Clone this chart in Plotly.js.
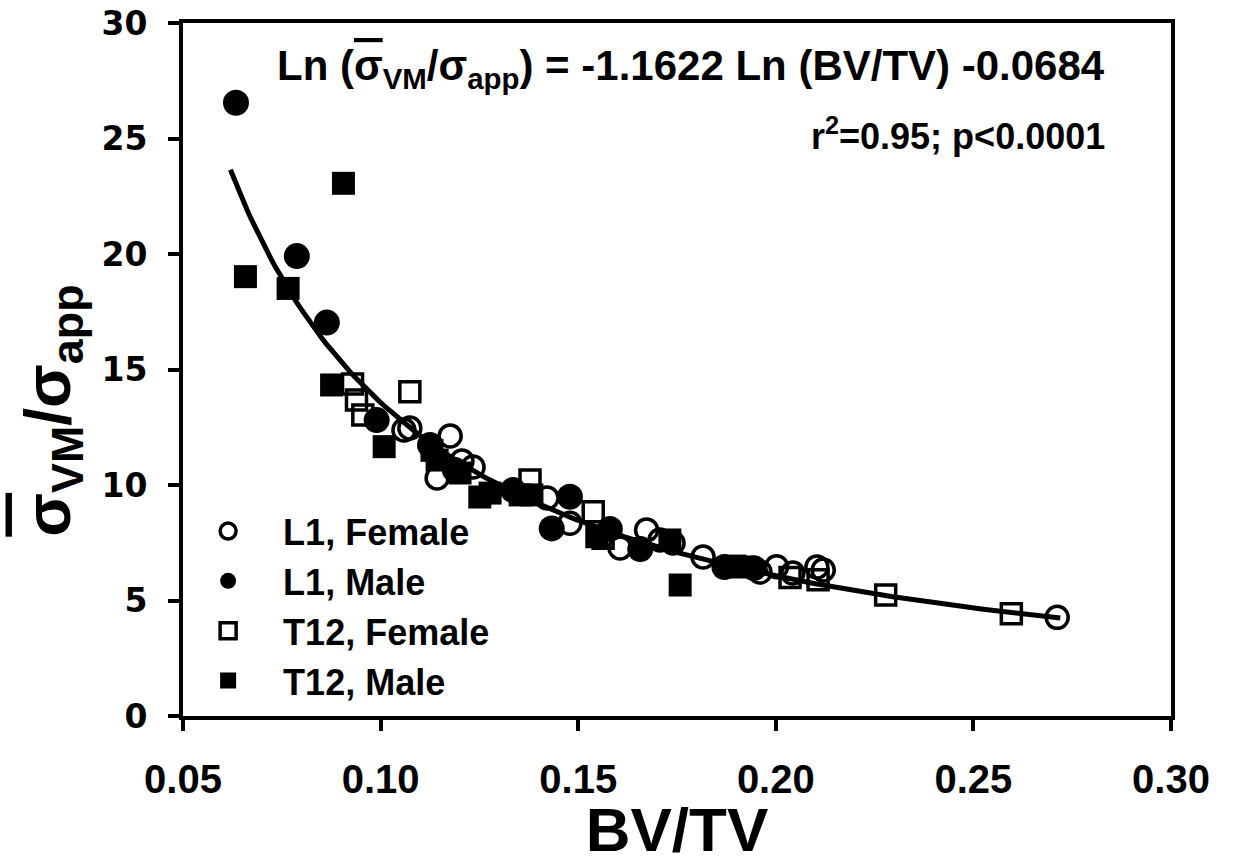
<!DOCTYPE html>
<html>
<head>
<meta charset="utf-8">
<script src="https://cdn.plot.ly/plotly-3.0.1.min.js"></script>
<style>html,body{margin:0;padding:0;background:#fff;}#chart{width:1235px;height:864px;}</style>
</head>
<body>
<div id="chart"></div>
<script>
// L1, Female (open circles)
const l1FemaleX = [0.1059, 0.1074, 0.1176, 0.1143, 0.1206, 0.1234, 0.1421, 0.1479, 0.1606, 0.1673, 0.1707, 0.1740, 0.1816, 0.1960, 0.2002, 0.2043, 0.2104, 0.2120, 0.2712];
const l1FemaleY = [12.38, 12.47, 12.12, 10.30, 11.04, 10.78, 9.44, 8.34, 7.27, 8.05, 7.62, 7.49, 6.88, 6.23, 6.46, 6.19, 6.45, 6.32, 4.27];
// L1, Male (filled circles)
const l1MaleX = [0.0634, 0.0788, 0.0864, 0.0990, 0.1125, 0.1188, 0.1335, 0.1479, 0.1433, 0.1580, 0.1657, 0.1870, 0.1945];
const l1MaleY = [26.55, 19.91, 17.03, 12.81, 11.73, 10.65, 9.78, 9.49, 8.12, 8.10, 7.23, 6.45, 6.40];
// T12, Female (open squares)
const t12FemaleX = [0.0929, 0.1074, 0.0939, 0.0955, 0.1378, 0.1538, 0.1563, 0.2036, 0.2107, 0.2278, 0.2596];
const t12FemaleY = [14.37, 14.04, 13.68, 13.03, 10.22, 8.84, 7.70, 6.00, 5.90, 5.24, 4.43];
// T12, Male (filled squares)
const t12MaleX = [0.0658, 0.0766, 0.0906, 0.0876, 0.1009, 0.1130, 0.1143, 0.1201, 0.1251, 0.1277, 0.1353, 0.1383, 0.1547, 0.1732, 0.1758, 0.1897, 0.1912];
const t12MaleY = [19.02, 18.51, 23.06, 14.33, 11.66, 11.50, 11.08, 10.52, 9.48, 9.65, 9.57, 9.57, 7.76, 7.62, 5.67, 6.49, 6.45];

// fitted model stated on the chart: Ln(y) = slope * Ln(x) + intercept
const fitSlope = -1.1622;
const fitIntercept = -0.0684;
const fitXMin = 0.062;
const fitXMax = 0.272;

const xTicks = [0.05, 0.10, 0.15, 0.20, 0.25, 0.30];
const xTickText = ['0.05', '0.10', '0.15', '0.20', '0.25', '0.30'];
const yTicks = [0, 5, 10, 15, 20, 25, 30];

const fitX = [], fitY = [];
for (let i = 0; i <= 200; i++) {
  const x = fitXMin + (fitXMax - fitXMin) * i / 200;
  fitX.push(x);
  fitY.push(Math.exp(fitSlope * Math.log(x) + fitIntercept));
}

const openLine = {color: '#000', width: 3.5};
const traces = [
  {x: fitX, y: fitY, mode: 'lines', line: {color: '#000', width: 5}, showlegend: false, hoverinfo: 'skip'},
  {x: l1FemaleX, y: l1FemaleY, mode: 'markers', name: 'L1, Female',
   marker: {symbol: 'circle-open', size: 22, color: '#000', line: openLine}},
  {x: l1MaleX, y: l1MaleY, mode: 'markers', name: 'L1, Male',
   marker: {symbol: 'circle', size: 26, color: '#000'}},
  {x: t12FemaleX, y: t12FemaleY, mode: 'markers', name: 'T12, Female',
   marker: {symbol: 'square-open', size: 20, color: '#000', line: openLine}},
  {x: t12MaleX, y: t12MaleY, mode: 'markers', name: 'T12, Male',
   marker: {symbol: 'square', size: 23, color: '#000'}}
];

const boldFont = 'Liberation Sans, Arial, sans-serif';
const sigmaBar = '<span style="text-decoration:overline">σ</span>';
const layout = {
  width: 1235, height: 864,
  margin: {l: 183, r: 64, t: 23, b: 148},
  paper_bgcolor: '#fff', plot_bgcolor: '#fff',
  showlegend: true,
  legend: {x: -0.01, y: 0.31, xanchor: 'left', yanchor: 'top', bgcolor: 'rgba(0,0,0,0)',
           itemwidth: 100, font: {family: boldFont, size: 36, color: '#000', weight: 'bold'},
           tracegroupgap: 0},
  xaxis: {
    range: [0.05, 0.30], tickvals: xTicks, ticktext: xTickText,
    showgrid: false, zeroline: false, showline: true, linecolor: '#000', linewidth: 4, mirror: true,
    ticks: 'outside', ticklen: 11, tickwidth: 4, tickcolor: '#000', ticklabelstandoff: 14,
    tickfont: {family: boldFont, size: 40, color: '#000', weight: 'bold'},
    title: {text: 'BV/TV', standoff: 10, font: {family: boldFont, size: 62, color: '#000', weight: 'bold'}}
  },
  yaxis: {
    range: [0, 30], tickvals: yTicks,
    showgrid: false, zeroline: false, showline: true, linecolor: '#000', linewidth: 4, mirror: true,
    ticks: 'outside', ticklen: 11, tickwidth: 4, tickcolor: '#000', ticklabelstandoff: 14,
    tickfont: {family: 'DejaVu Sans, sans-serif', size: 33, color: '#000', weight: 'bold'}
  },
  annotations: [
    {xref: 'paper', yref: 'paper', x: -0.133, y: 0.44, xanchor: 'center', yanchor: 'middle', showarrow: false,
     textangle: -90,
     text: sigmaBar + '<sub>VM</sub>/σ<sub>app</sub>',
     font: {family: boldFont, size: 64, color: '#000', weight: 'bold'}},
    {xref: 'paper', yref: 'paper', x: 0.935, y: 0.935, xanchor: 'right', yanchor: 'middle', showarrow: false,
     text: 'Ln (' + sigmaBar + '<sub>VM</sub>/σ<sub>app</sub>) = -1.1622 Ln (BV/TV) -0.0684',
     font: {family: boldFont, size: 42, color: '#000', weight: 'bold'}},
    {xref: 'paper', yref: 'paper', x: 0.935, y: 0.84, xanchor: 'right', yanchor: 'middle', showarrow: false,
     text: 'r<sup>2</sup>=0.95; p<0.0001',
     font: {family: boldFont, size: 36, color: '#000', weight: 'bold'}}
  ]
};

Plotly.newPlot('chart', traces, layout, {staticPlot: true, displayModeBar: false});
</script>
</body>
</html>
